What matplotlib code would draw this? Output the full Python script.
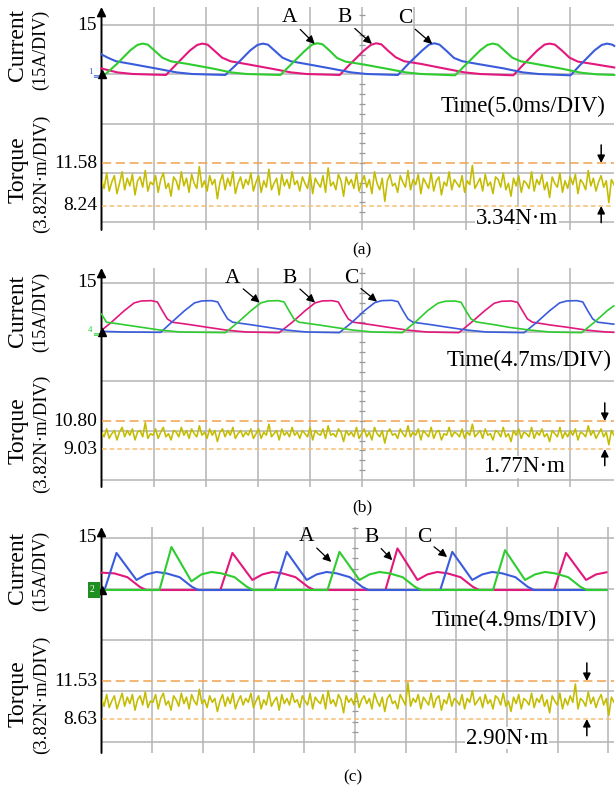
import numpy as np
import matplotlib
matplotlib.use("Agg")
import matplotlib.pyplot as plt
from matplotlib.patches import Rectangle

plt.rcParams["font.family"] = ["Liberation Serif", "DejaVu Serif"]

W, H = 616, 785

GREEN = "#2fcc2f"
MAGENTA = "#e2187c"
BLUE = "#3a5cdc"
YELLOW = "#c4bc00"
GRID = "#b4b4b4"
DASH_HI = "#f2a24e"
DASH_LO = "#f6bf74"

CURRENT_TICK = 15

# ---------------- (a) 5.0 ms/DIV ----------------
A_MS_DIV = 5.0
A_GREEN_T = [0.0, 0.4, 1.45, 2.75, 3.45, 3.95, 4.45, 5.15, 5.85, 6.65, 8.25, 10.65, 12.45, 13.95, 17.2,
             18.25, 19.55, 20.25, 20.75, 21.25, 21.95, 22.65, 23.45, 25.05, 27.45, 29.25, 30.75, 34.0,
             35.1, 36.4, 37.1, 37.6, 38.1, 38.8, 39.5, 40.3, 41.9, 44.3, 46.1, 47.6, 49.3]
A_GREEN_I = [-0.1, 0.0, 3.0, 7.2, 8.9, 9.3, 9.0, 7.0, 5.0, 3.9, 3.1, 1.7, 0.5, 0.0, -0.3,
             3.0, 7.1, 9.0, 9.4, 9.1, 7.1, 4.9, 3.8, 3.0, 1.6, 0.5, 0.0, -0.4,
             3.1, 7.2, 8.9, 9.3, 9.0, 7.0, 5.0, 3.9, 3.0, 1.6, 0.4, -0.1, -0.3]
A_MAGENTA_T = [0.0, 1.5, 3.0, 6.2, 7.2, 8.5, 9.2, 9.7, 10.2, 10.9, 11.6, 12.4, 14.0, 16.4, 18.2, 19.7, 22.9,
               23.9, 25.2, 25.9, 26.4, 26.9, 27.6, 28.3, 29.1, 30.7, 33.1, 34.9, 36.4, 39.6,
               40.6, 41.9, 42.6, 43.1, 43.6, 44.3, 45.0, 45.8, 47.4, 49.3]
A_MAGENTA_I = [1.7, 0.5, 0.0, -0.3, 3.0, 7.2, 8.9, 9.3, 9.0, 7.0, 5.0, 3.9, 3.0, 1.6, 0.5, 0.0, -0.3,
               3.0, 7.1, 8.9, 9.4, 9.1, 7.0, 5.1, 3.9, 3.1, 1.6, 0.5, 0.0, -0.4,
               3.0, 7.2, 9.0, 9.3, 9.0, 7.1, 5.0, 3.8, 3.0, 2.0]
A_BLUE_T = [0.0, 0.6, 1.4, 3.0, 5.4, 7.2, 8.7, 11.9,
            13.0, 14.3, 15.0, 15.5, 16.0, 16.7, 17.4, 18.2, 19.8, 22.2, 24.0, 25.5, 28.5,
            29.5, 30.8, 31.5, 32.0, 32.5, 33.2, 33.9, 34.7, 36.3, 38.7, 40.5, 42.0, 45.1,
            46.1, 47.4, 48.1, 48.6, 49.1, 49.3]
A_BLUE_I = [6.0, 5.0, 3.9, 3.0, 1.6, 0.5, 0.0, -0.3,
            3.0, 7.2, 8.9, 9.3, 9.0, 7.0, 5.0, 3.9, 3.0, 1.6, 0.5, 0.0, -0.3,
            3.1, 7.1, 9.0, 9.4, 9.0, 7.0, 4.9, 3.9, 3.0, 1.7, 0.5, 0.0, -0.4,
            3.0, 7.2, 8.9, 9.3, 9.0, 8.6]
A_T_HI, A_T_LO = 11.58, 8.24
A_TORQUE = [
    10.3, 9.6, 10.8, 9.4, 10.1, 10.6, 9.2, 10.0, 10.9, 9.5, 10.4, 9.8, 10.7, 9.1, 10.2, 10.5, 9.7, 11.0, 9.4, 10.1,
    9.9, 10.6, 9.3, 10.3, 10.8, 9.6, 10.0, 9.0, 10.5, 10.2, 9.5, 10.9, 9.8, 10.4, 9.3, 10.7, 10.0, 9.6, 11.3, 9.7,
    10.2, 9.4, 10.6, 9.9, 10.3, 8.8, 10.1, 10.7, 9.5, 10.4, 9.8, 10.9, 9.2, 10.0, 10.5, 9.6, 10.3, 9.9, 10.8, 9.4,
    10.1, 10.6, 9.3, 10.2, 9.7, 11.1, 9.5, 10.0, 10.4, 9.1, 10.7, 9.8, 10.3, 9.6, 10.9, 9.9, 10.2, 9.4, 10.5, 10.0,
    9.6, 10.8, 9.2, 10.4, 10.0, 9.7, 10.6, 9.3, 11.2, 9.8, 10.1, 9.5, 10.7, 10.2, 9.0, 10.5, 9.9, 10.3, 9.6, 10.8,
    9.4, 10.1, 10.6, 9.7, 10.3, 9.2, 10.9, 10.0, 9.5, 10.4, 8.6, 10.2, 10.7, 9.8, 10.0, 9.3, 10.6, 10.1, 9.7, 11.0,
    9.5, 10.3, 9.9, 10.7, 9.2, 10.4, 10.0, 9.6, 10.8, 9.4, 10.2, 10.5, 9.1, 10.1, 9.8, 10.9, 9.5, 10.3, 10.0, 9.7,
    10.6, 9.3, 10.2, 9.9, 11.4, 9.6, 10.0, 10.4, 9.4, 10.7, 9.8, 10.1, 9.2, 10.5, 10.3, 9.7, 10.8, 9.5, 10.0, 9.0,
    10.4, 9.8, 10.6, 9.3, 10.2, 10.0, 9.6, 10.9, 9.4, 10.3, 9.9, 10.7, 9.5, 10.1, 8.9, 10.5, 10.0, 9.7, 10.8, 9.3,
    10.2, 9.6, 10.5, 9.9, 10.7, 9.2, 10.3, 10.0, 9.5, 11.0, 9.8, 10.4, 9.4, 10.1, 10.6, 9.7, 10.2, 8.5, 10.3, 9.9,
]

# ---------------- (b) 4.7 ms/DIV ----------------
B_MS_DIV = 4.7
B_GREEN_T = [0.0, 0.45, 2.1, 3.5, 5.3, 7.1, 11.2,
             12.35, 13.5, 14.4, 15.05, 15.95, 16.5, 16.95, 17.4, 17.85, 19.55, 20.9, 22.7, 24.5, 27.2,
             28.35, 29.5, 30.4, 31.05, 31.95, 32.5, 32.95, 33.4, 33.85, 35.55, 36.9, 38.7, 40.5, 43.4,
             44.55, 45.7, 46.3]
B_GREEN_I = [5.5, 3.0, 2.2, 1.5, 0.6, 0.0, -0.2,
             3.0, 6.5, 8.9, 9.5, 9.6, 9.2, 6.5, 4.0, 3.0, 2.2, 1.5, 0.6, 0.0, -0.2,
             3.0, 6.6, 8.8, 9.4, 9.5, 9.1, 6.4, 4.0, 3.1, 2.2, 1.4, 0.6, 0.0, -0.2,
             3.0, 6.5, 8.0]
B_MAGENTA_T = [0.0, 0.9, 2.05, 2.95, 3.6, 4.5, 5.05, 5.5, 5.95, 6.4, 8.1, 9.45, 11.25, 13.05, 16.05,
               17.25, 18.4, 19.3, 19.95, 20.85, 21.4, 21.85, 22.3, 22.75, 24.45, 25.8, 27.6, 29.4, 32.3,
               33.45, 34.6, 35.5, 36.15, 37.05, 37.6, 38.05, 38.5, 38.95, 40.65, 42.0, 43.8, 45.6, 46.3]
B_MAGENTA_I = [0.5, 3.0, 6.5, 8.9, 9.5, 9.6, 9.2, 6.5, 4.0, 3.0, 2.2, 1.5, 0.6, 0.0, -0.2,
               3.0, 6.5, 8.9, 9.5, 9.6, 9.2, 6.5, 4.0, 3.0, 2.2, 1.5, 0.6, 0.0, -0.2,
               3.0, 6.4, 8.8, 9.4, 9.5, 9.1, 6.5, 4.0, 3.0, 2.1, 1.5, 0.6, 0.0, -0.1]
B_BLUE_T = [0.0, 2.0, 5.35, 6.35, 7.5, 8.4, 9.05, 9.95, 10.5, 10.95, 11.4, 11.85, 13.55, 14.9, 16.7, 18.5, 21.5,
            22.65, 23.8, 24.7, 25.35, 26.25, 26.8, 27.25, 27.7, 28.15, 29.85, 31.2, 33.0, 34.8, 38.2,
            39.35, 40.5, 41.4, 42.05, 42.95, 43.5, 43.95, 44.4, 44.85, 46.3]
B_BLUE_I = [0.2, 0.0, -0.1, 3.0, 6.5, 8.9, 9.5, 9.6, 9.2, 6.5, 4.0, 3.0, 2.2, 1.5, 0.6, 0.0, -0.2,
            3.0, 6.6, 9.0, 9.6, 9.7, 9.3, 6.5, 4.0, 3.0, 2.2, 1.5, 0.6, 0.0, -0.2,
            3.0, 6.5, 8.9, 9.5, 9.6, 9.2, 6.5, 4.0, 3.0, 2.4]
B_T_HI, B_T_LO = 10.80, 9.03
B_TORQUE = [
    10.1, 9.8, 10.3, 9.7, 10.0, 10.2, 9.6, 10.1, 10.4, 9.8, 10.2, 9.9, 10.3, 9.6, 10.1, 10.2, 9.8, 10.7, 9.7, 10.0,
    9.9, 10.3, 9.7, 10.1, 10.4, 9.8, 10.0, 9.6, 10.2, 10.1, 9.8, 10.4, 9.9, 10.2, 9.7, 10.3, 10.0, 9.8, 10.5, 9.9,
    10.1, 9.7, 10.3, 9.9, 10.2, 9.5, 10.1, 10.3, 9.8, 10.2, 9.9, 10.4, 9.7, 10.0, 10.2, 9.8, 10.1, 9.9, 10.3, 9.7,
    10.0, 10.3, 9.7, 10.1, 9.9, 10.6, 9.8, 10.0, 10.2, 9.6, 10.3, 9.9, 10.1, 9.8, 10.4, 9.9, 10.1, 9.7, 10.2, 10.0,
    9.8, 10.4, 9.6, 10.2, 10.0, 9.9, 10.3, 9.7, 10.5, 9.9, 10.0, 9.8, 10.3, 10.1, 9.5, 10.2, 9.9, 10.1, 9.8, 10.4,
    9.7, 10.0, 10.3, 9.8, 10.1, 9.6, 10.4, 10.0, 9.8, 10.2, 9.4, 10.1, 10.3, 9.9, 10.0, 9.7, 10.3, 10.0, 9.8, 10.5,
    9.8, 10.1, 9.9, 10.3, 9.6, 10.2, 10.0, 9.8, 10.4, 9.7, 10.1, 10.2, 9.6, 10.0, 9.9, 10.4, 9.8, 10.1, 10.0, 9.8,
    10.3, 9.7, 10.1, 9.9, 10.6, 9.8, 10.0, 10.2, 9.7, 10.3, 9.9, 10.0, 9.6, 10.2, 10.1, 9.8, 10.4, 9.8, 10.0, 9.5,
    10.2, 9.9, 10.3, 9.7, 10.1, 10.0, 9.8, 10.4, 9.7, 10.1, 9.9, 10.3, 9.8, 10.0, 9.5, 10.2, 10.0, 9.8, 10.4, 9.7,
    10.1, 9.8, 10.2, 9.9, 10.3, 9.6, 10.1, 10.0, 9.8, 10.5, 9.9, 10.2, 9.7, 10.0, 10.3, 9.8, 10.1, 9.3, 10.2, 9.9,
]

# ---------------- (c) 4.9 ms/DIV ----------------
C_MS_DIV = 4.9
C_GREEN_T = [0.0, 5.6, 6.76, 8.69, 9.66, 10.62, 11.59, 12.86, 14.06, 14.66,
             21.84, 23.0, 24.93, 25.9, 26.86, 27.83, 29.1, 30.3, 30.9,
             37.84, 39.0, 40.93, 41.9, 42.86, 43.83, 45.1, 46.3, 46.9, 48.8]
C_GREEN_I = [0.0, 0.0, 12.4, 2.5, 4.5, 5.2, 4.8, 3.7, 0.9, 0.0,
             0.0, 11.0, 2.9, 4.5, 5.2, 4.8, 3.7, 0.9, 0.0,
             0.0, 11.5, 2.9, 4.5, 5.2, 4.8, 3.7, 0.9, 0.0, 0.0]
C_MAGENTA_T = [0.0, 1.23, 2.5, 3.7, 4.3,
               11.49, 12.65, 14.58, 15.55, 16.51, 17.48, 18.75, 19.95, 20.55,
               27.44, 28.6, 30.53, 31.5, 32.46, 33.43, 34.7, 35.9, 36.5,
               43.74, 44.9, 46.83, 47.8, 48.8]
C_MAGENTA_I = [5.0, 4.8, 3.7, 0.9, 0.0,
               0.0, 10.7, 2.9, 4.5, 5.2, 4.8, 3.7, 0.9, 0.0,
               0.0, 12.0, 2.9, 4.5, 5.2, 4.8, 3.7, 0.9, 0.0,
               0.0, 10.7, 2.9, 4.5, 5.1]
C_BLUE_T = [0.0, 0.29, 1.45, 3.38, 4.35, 5.31, 6.28, 7.55, 8.75, 9.35,
            16.74, 17.9, 19.83, 20.8, 21.76, 22.73, 24.0, 25.2, 25.8,
            32.74, 33.9, 35.83, 36.8, 37.76, 38.73, 40.0, 41.2, 41.8, 48.8]
C_BLUE_I = [0.0, 0.0, 10.7, 2.9, 4.5, 5.2, 4.8, 3.7, 0.9, 0.0,
            0.0, 11.0, 2.9, 4.5, 5.2, 4.8, 3.7, 0.9, 0.0,
            0.0, 11.0, 2.9, 4.5, 5.2, 4.8, 3.7, 0.9, 0.0, 0.0]
C_T_HI, C_T_LO = 11.53, 8.63
C_TORQUE = [
    10.2, 9.6, 10.5, 9.5, 10.0, 10.4, 9.4, 10.0, 10.6, 9.6, 10.3, 9.8, 10.5, 9.3, 10.1, 10.4, 9.7, 10.7, 9.5, 10.0,
    9.9, 10.5, 9.4, 10.2, 10.6, 9.7, 10.0, 9.3, 10.4, 10.1, 9.6, 10.6, 9.8, 10.3, 9.4, 10.5, 10.0, 9.7, 10.9, 9.8,
    10.1, 9.5, 10.4, 9.9, 10.2, 9.2, 10.0, 10.5, 9.6, 10.3, 9.8, 10.6, 9.4, 10.0, 10.4, 9.7, 10.2, 9.9, 10.6, 9.5,
    10.0, 10.4, 9.4, 10.1, 9.7, 10.7, 9.6, 10.0, 10.3, 9.3, 10.5, 9.8, 10.2, 9.7, 10.6, 9.9, 10.1, 9.5, 10.4, 10.0,
    9.7, 10.6, 9.4, 10.3, 10.0, 9.8, 10.5, 9.4, 10.8, 9.8, 10.1, 9.6, 10.5, 10.1, 9.1, 10.4, 9.9, 10.2, 9.7, 10.6,
    9.5, 10.1, 10.4, 9.8, 10.2, 9.4, 10.6, 10.0, 9.6, 10.3, 9.2, 10.2, 10.5, 9.8, 10.0, 9.4, 10.5, 10.1, 9.7, 11.4,
    9.6, 10.2, 9.9, 10.5, 9.4, 10.3, 10.0, 9.7, 10.6, 9.5, 10.2, 10.4, 9.3, 10.1, 9.8, 10.6, 9.6, 10.2, 10.0, 9.7,
    10.5, 9.4, 10.2, 9.9, 10.8, 9.7, 10.0, 10.3, 9.5, 10.5, 9.8, 10.1, 9.4, 10.4, 10.2, 9.7, 10.6, 9.6, 10.0, 9.2,
    10.3, 9.8, 10.5, 9.4, 10.2, 10.0, 9.7, 10.6, 9.5, 10.2, 9.9, 10.5, 9.6, 10.1, 9.1, 10.4, 10.0, 9.7, 10.6, 9.4,
    10.2, 9.7, 10.4, 9.9, 11.3, 9.4, 10.2, 10.0, 9.6, 10.7, 9.8, 10.3, 9.5, 10.1, 10.5, 9.7, 10.2, 8.9, 10.3, 9.9,
]

# panel geometry in pixels (top of image = 0)
LAYOUT = {
    "a": dict(top=7, bot=230, g_top=25, g_bot=222, pitch=52.0, p0=74, p15=25, p_hi=163, p_lo=206,
              lw=1.5, arrow_x=0.975, cap=(362, 250), time=(523, 106), ripple=(517, 218),
              cur_y=45, cur_sub_y=50, trq_y=170, trq_sub_y=174, gnd=(BLUE, "1", False),
              notes=[("A", 20.5, 9.2, -25, 26), ("B", 26.0, 9.2, -27, 26), ("C", 31.8, 9.2, -27, 25)]),
    "b": dict(top=268, bot=487, g_top=283, g_bot=480, pitch=52.0, p0=332, p15=283, p_hi=421, p_lo=449,
              lw=1.2, arrow_x=0.982, cap=(362, 507), time=(529, 360), ripple=(524, 467),
              cur_y=311, cur_sub_y=312, trq_y=431, trq_sub_y=434, gnd=(GREEN, "4", False),
              notes=[("A", 14.3, 9.0, -27, 24), ("B", 19.3, 9.0, -25, 24), ("C", 24.9, 9.3, -26, 23)]),
    "c": dict(top=527, bot=753, g_top=538, g_bot=742, pitch=50.7, p0=590, p15=538, p_hi=681, p_lo=719,
              lw=1.5, arrow_x=0.947, cap=(353, 777), time=(514, 620), ripple=(507, 738),
              cur_y=568, cur_sub_y=571, trq_y=694, trq_sub_y=695, gnd=("#1f8f1f", "2", True),
              notes=[("A", 22.2, 8.1, -25, 25), ("B", 28.1, 8.6, -21, 23), ("C", 33.4, 9.5, -23, 20)]),
}

LEFT, RIGHT = 101.5, 614.0

fig = plt.figure(figsize=(W / 100, H / 100), dpi=100)


def fx(x):
    return x / W


def fy(y):
    return 1 - y / H


def draw_panel(key, ms_div, traces, torque, t_hi, t_lo):
    lay = LAYOUT[key]
    top, bot = lay["top"], lay["bot"]
    rect = [fx(LEFT), fy(bot), (RIGHT - LEFT) / W, (bot - top) / H]
    xmax = (RIGHT - LEFT) / lay["pitch"] * ms_div

    # grid layer, y in divisions
    gy = (lay["g_bot"] - lay["g_top"]) / 4.0
    ax = fig.add_axes(rect)
    ax.set_xlim(0, xmax)
    y0, y1 = (lay["g_bot"] - bot) / gy, (lay["g_bot"] - top) / gy
    ax.set_ylim(y0, y1)
    ax.set_axis_off()
    for k in range(1, 11):
        ax.axvline(k * ms_div, color=GRID, lw=1.1, zorder=0)
    for k in range(5):
        ax.axhline(k, color=GRID, lw=1.1, zorder=0)
    xc = 5 * ms_div
    d = 3.0 / lay["pitch"] * ms_div
    ys = [k * 0.2 for k in range(22) if k % 5]
    ax.hlines(ys, xc - d, xc + d, color="#999999", lw=0.9)
    ax.annotate("", xy=(0, y1), xytext=(0, y0), annotation_clip=False,
                arrowprops=dict(arrowstyle="-|>", color="k", lw=1.4,
                                mutation_scale=13, shrinkA=0, shrinkB=0))

    # current traces, y in amps
    axc = ax.twinx()
    apx = CURRENT_TICK / (lay["p0"] - lay["p15"])
    axc.set_ylim(-(bot - lay["p0"]) * apx, (lay["p0"] - top) * apx)
    axc.set_axis_off()
    for (t, i), col in zip(traces, (MAGENTA, BLUE, GREEN)):
        axc.plot(t, i, color=col, lw=lay["lw"], solid_joinstyle="round", clip_on=False)
    axc.plot([0], [0], marker="^", color="k", ms=6, clip_on=False)
    axc.annotate(str(CURRENT_TICK), xy=(0, CURRENT_TICK), xytext=(-3.5, 0),
                 textcoords="offset points", ha="right", va="center",
                 fontsize=14, annotation_clip=False)
    for letter, xt, it, dx, dy in lay["notes"]:
        axc.annotate(letter, xy=(xt, it), xytext=(dx * 0.72, dy * 0.72),
                     textcoords="offset points", ha="center", va="center", fontsize=15.5,
                     arrowprops=dict(arrowstyle="-|>", color="k", lw=0.9, mutation_scale=12,
                                     shrinkA=0, shrinkB=0, relpos=(0.75, 0.25)))

    # torque trace, y in N·m
    axt = ax.twinx()
    npx = (t_hi - t_lo) / (lay["p_lo"] - lay["p_hi"])
    axt.set_ylim(t_lo - (bot - lay["p_lo"]) * npx, t_hi + (lay["p_hi"] - top) * npx)
    axt.set_axis_off()
    axt.axhline(t_hi, color=DASH_HI, lw=1.1, dashes=(6, 3))
    axt.axhline(t_lo, color=DASH_LO, lw=1.1, dashes=(3, 2))
    tx = np.linspace(0, xmax, len(torque))
    axt.plot(tx, torque, color=YELLOW, lw=1.15)
    for val in (t_hi, t_lo):
        axt.annotate(f"{val:.2f}", xy=(0, val), xytext=(-3, 0), textcoords="offset points",
                     ha="right", va="center", fontsize=14, annotation_clip=False)
    xa = lay["arrow_x"]
    arrow = dict(arrowstyle="-|>", color="k", lw=1.1, mutation_scale=11, shrinkA=0, shrinkB=0)
    axt.annotate("", xy=(xa, t_hi), xycoords=("axes fraction", "data"),
                 xytext=(0, 13), textcoords="offset points", arrowprops=arrow)
    axt.annotate("", xy=(xa, t_lo), xycoords=("axes fraction", "data"),
                 xytext=(0, -12), textcoords="offset points", arrowprops=arrow)

    # labels
    fig.text(fx(18), fy(lay["cur_y"]), "Current", rotation=90, ha="center", va="center", fontsize=17)
    fig.text(fx(41), fy(lay["cur_sub_y"]), "(15A/DIV)", rotation=90, ha="center", va="center", fontsize=13)
    fig.text(fx(18), fy(lay["trq_y"]), "Torque", rotation=90, ha="center", va="center", fontsize=17)
    fig.text(fx(41), fy(lay["trq_sub_y"]), "(3.82N·m/DIV)", rotation=90, ha="center", va="center",
             fontsize=13.5)
    tx_, ty_ = lay["time"]
    fig.text(fx(tx_), fy(ty_), f"Time({ms_div:.1f}ms/DIV)", ha="center", va="center", fontsize=16.5)
    rx, ry = lay["ripple"]
    fig.text(fx(rx), fy(ry), f"{t_hi - t_lo:.2f}N·m", ha="center", va="center", fontsize=16.5,
             bbox=dict(facecolor="white", edgecolor="none", pad=0.5))
    cx, cy = lay["cap"]
    fig.text(fx(cx), fy(cy), f"({key})", ha="center", va="center", fontsize=12.5)

    # channel ground marker on the zero line
    col, num, boxed = lay["gnd"]
    p0 = lay["p0"]
    if boxed:
        fig.patches.append(Rectangle((fx(88), fy(p0 + 8)), 12 / W, 16 / H, transform=fig.transFigure,
                                     facecolor=col, edgecolor="none"))
        fig.text(fx(92), fy(p0 - 1), num, color="white", fontsize=7, ha="center", va="center")
    else:
        fig.text(fx(90), fy(p0 - 2), num, color=col, fontsize=6.5, ha="center", va="center")
        fig.text(fx(96), fy(p0 + 3), "≡", color=col, fontsize=6, ha="center", va="center",
                 family="DejaVu Sans")


draw_panel("a", A_MS_DIV,
           [(A_MAGENTA_T, A_MAGENTA_I), (A_BLUE_T, A_BLUE_I), (A_GREEN_T, A_GREEN_I)],
           A_TORQUE, A_T_HI, A_T_LO)
draw_panel("b", B_MS_DIV,
           [(B_MAGENTA_T, B_MAGENTA_I), (B_BLUE_T, B_BLUE_I), (B_GREEN_T, B_GREEN_I)],
           B_TORQUE, B_T_HI, B_T_LO)
draw_panel("c", C_MS_DIV,
           [(C_MAGENTA_T, C_MAGENTA_I), (C_BLUE_T, C_BLUE_I), (C_GREEN_T, C_GREEN_I)],
           C_TORQUE, C_T_HI, C_T_LO)

fig.savefig("out.png", dpi=100)
